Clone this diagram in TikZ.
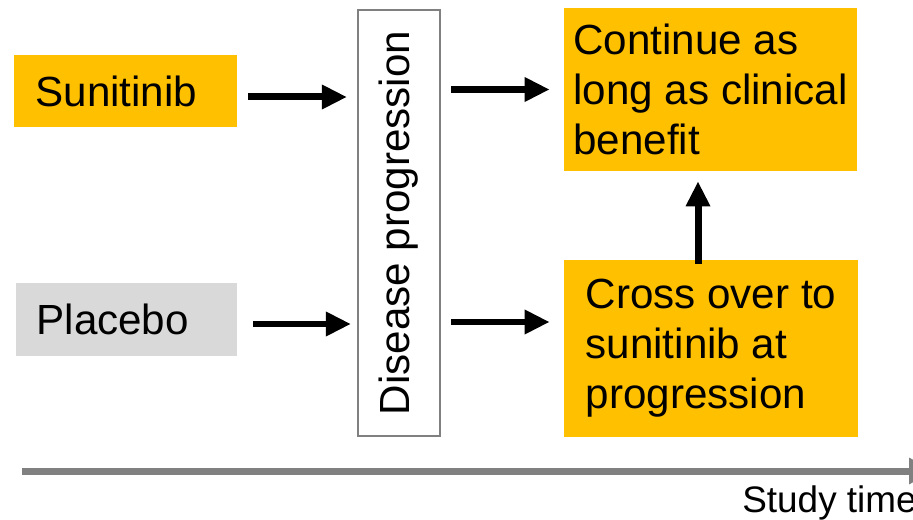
\documentclass[tikz,border=0pt]{standalone}
\usepackage{fontspec}
\setmainfont{Liberation Sans}
\usepackage{graphicx}
\usetikzlibrary{arrows.meta,positioning}
\definecolor{boxorange}{HTML}{FFC000}
\definecolor{boxgray}{HTML}{D9D9D9}
\definecolor{linegray}{HTML}{808080}

\begin{document}
\begin{tikzpicture}[x=0.02cm, y=-0.02cm,
    every node/.style={font=\fontsize{24}{28.5}\selectfont},
    arm/.style={rectangle, inner sep=0pt, text width=3.6cm, align=left, minimum height=1.46cm},
    outcome/.style={rectangle, fill=boxorange, align=left, inner sep=0pt},
    arr/.style={line width=0.14cm, -{Triangle[length=0.5cm,width=0.46cm]}}]
    \useasboundingbox (0,0) rectangle (913,520);
    \clip (0,0) rectangle (913,520);

    % Treatment arms
    \node[arm, fill=boxorange, minimum width=4.46cm] (sun) at (125.5,91) {Sunitinib};
    \node[arm, fill=boxgray, minimum width=4.42cm] (pla) at (126.5,319.5) {Placebo};

    % Progression box
    \node[draw=linegray, line width=1.2pt, inner sep=0pt, minimum width=1.64cm, minimum height=8.52cm] (dis) at (399,223) {\rotatebox{90}{Disease progression}};

    % Outcomes
    \node[outcome, minimum width=5.86cm, minimum height=3.26cm] (cont) at (710.5,89.5) {Continue as\\long as clinical\\benefit};
    \node[outcome, minimum width=5.88cm, minimum height=3.54cm] (cross) at (711,348.5) {Cross over to\\sunitinib at\\progression};

    % Arrows
    \coordinate (ysun) at (0,97);
    \coordinate (ypla) at (0,324);
    \coordinate (ycross) at (0,322);
    \draw[arr, shorten <=0.22cm, shorten >=0.2cm] (sun.east |- ysun) -- (dis.west |- ysun);
    \draw[arr, shorten <=0.2cm, shorten >=0.28cm] (dis.east |- cont.west) -- (cont.west);
    \draw[arr, shorten <=0.32cm, shorten >=0.12cm] (pla.east |- ypla) -- (dis.west |- ypla);
    \draw[arr, shorten <=0.2cm, shorten >=0.28cm] (dis.east |- ycross) -- (cross.west |- ycross);
    \draw[arr, shorten <=-0.08cm, shorten >=0.2cm] ([xshift=-0.26cm]cross.north) -- ([xshift=-0.26cm]cross.north |- cont.south);

    % Time axis
    \coordinate (t0) at (22,471);
    \coordinate (t1) at (934,471);
    \draw[linegray, line width=0.14cm, -{Triangle[length=0.5cm,width=0.5cm]}] (t0) -- (t1);
    \node[anchor=base west, inner sep=0pt, font=\fontsize{21}{25}\selectfont] (stime) at (742,512) {Study time};
\end{tikzpicture}
\end{document}
